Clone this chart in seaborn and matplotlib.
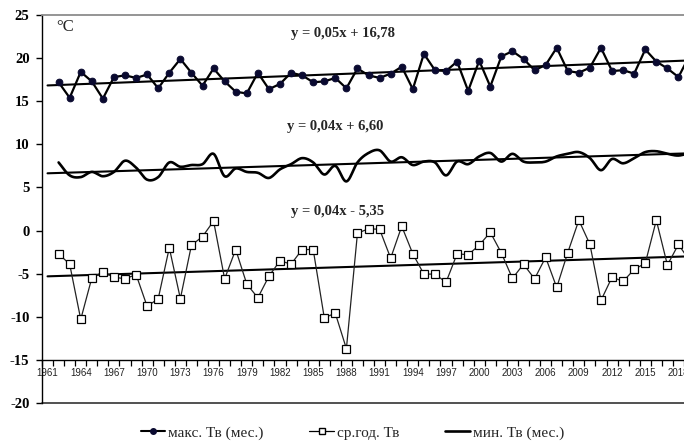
import numpy as np
import matplotlib
matplotlib.use("Agg")
import matplotlib.pyplot as plt
from matplotlib.lines import Line2D
import seaborn as sns

# years of observation (1961 is an empty category on the axis)
years = list(range(1962, 2020))

# dots: "макс. Тв (мес.)"
t_max = [17.2, 15.4, 18.4, 17.3, 15.3, 17.8, 18.0, 17.7, 18.1, 16.5,
         18.3, 19.9, 18.3, 16.8, 18.8, 17.3, 16.1, 15.9, 18.3, 16.4,
         17.0, 18.3, 18.0, 17.2, 17.3, 17.7, 16.5, 18.8, 18.0, 17.7,
         18.2, 19.0, 16.4, 20.5, 18.6, 18.5, 19.6, 16.2, 19.7, 16.7,
         20.2, 20.8, 19.9, 18.6, 19.2, 21.2, 18.5, 18.3, 18.9, 21.2,
         18.5, 18.6, 18.2, 21.0, 19.6, 18.8, 17.8, 20.3]

# open squares: "ср.год. Тв"
t_mean = [-2.7, -3.9, -10.3, -5.5, -4.8, -5.4, -5.6, -5.1, -8.8, -7.9,
          -2.0, -7.9, -1.7, -0.7, 1.1, -5.6, -2.2, -6.2, -7.8, -5.3,
          -3.5, -3.9, -2.2, -2.2, -10.1, -9.6, -13.7, -0.3, 0.2, 0.15,
          -3.2, 0.5, -2.7, -5.05, -5.05, -6.0, -2.7, -2.8, -1.7, -0.2,
          -2.6, -5.55, -3.9, -5.6, -3.1, -6.6, -2.55, 1.2, -1.6, -8.1,
          -5.4, -5.9, -4.5, -3.8, 1.2, -4.0, -1.6, -3.5]

# smooth line: "мин. Тв (мес.)"
t_min = [7.9, 6.4, 6.2, 6.8, 6.3, 6.8, 8.1, 7.3, 5.9, 6.2,
         7.9, 7.4, 7.6, 7.7, 8.9, 6.3, 7.2, 6.8, 6.7, 6.1,
         7.1, 7.7, 8.4, 7.9, 6.5, 7.5, 5.7, 7.9, 9.0, 9.3,
         8.0, 8.5, 7.6, 8.0, 7.9, 6.4, 8.0, 7.7, 8.6, 9.0,
         8.0, 8.9, 8.0, 7.9, 8.0, 8.6, 8.9, 9.1, 8.4, 7.0,
         8.3, 7.8, 8.4, 9.1, 9.2, 8.9, 8.7, 9.0]

# linear trends, x = year - 1960
trend_slope = [0.05, 0.04, 0.04]
trend_icpt = [16.78, 6.60, -5.35]
trend_text = ["y = 0,05x + 16,78", "y = 0,04x + 6,60", "y = 0,04x - 5,35"]
trend_text_x = [1987.7, 1987.0, 1987.2]
trend_text_y = [22.9, 12.05, 2.25]

legend_labels = ["макс. Тв (мес.)", "ср.год. Тв", "мин. Тв (мес.)"]
tick_years = list(range(1961, 2019, 3))


def smoothCurve(x, y, n=12):
    # Catmull-Rom style smoothing like the spreadsheet "smoothed line"
    x = np.asarray(x, float)
    y = np.asarray(y, float)
    m = np.gradient(y)
    xs, ys = [], []
    for i in range(len(x) - 1):
        t = np.linspace(0, 1, n, endpoint=False)
        h00 = 2 * t**3 - 3 * t**2 + 1
        h10 = t**3 - 2 * t**2 + t
        h01 = -2 * t**3 + 3 * t**2
        h11 = t**3 - t**2
        xs.append(x[i] + t * (x[i + 1] - x[i]))
        ys.append(h00 * y[i] + h10 * m[i] + h01 * y[i + 1] + h11 * m[i + 1])
    xs.append([x[-1]])
    ys.append([y[-1]])
    return np.concatenate(xs), np.concatenate(ys)


sns.set_style("white")
plt.rcParams["font.family"] = ["Liberation Serif", "DejaVu Serif"]

fig = plt.figure(figsize=(6.84, 4.41), dpi=100)
ax = fig.add_axes([42 / 684, 38 / 441, 642 / 684, 388 / 441])

# trend lines
trend_x = np.array([1961, 2020])
for k in range(3):
    sns.lineplot(x=trend_x, y=trend_slope[k] * (trend_x - 1960) + trend_icpt[k],
                 ax=ax, color="black", lw=1.5)

sns.lineplot(x=years, y=t_max, ax=ax, color="black", lw=1.6, marker="o",
             markersize=4.8, markerfacecolor="#0a0a30", markeredgecolor="#0a0a30")
sns.lineplot(x=years, y=t_mean, ax=ax, color="#222222", lw=0.9, marker="s",
             markersize=5.4, markerfacecolor="white", markeredgecolor="black",
             markeredgewidth=0.9)
sx, sy = smoothCurve(years, t_min)
sns.lineplot(x=sx, y=sy, ax=ax, color="black", lw=1.9, sort=False, estimator=None)

for k in range(3):
    ax.text(trend_text_x[k], trend_text_y[k], trend_text[k], ha="center", va="center",
            fontsize=10.5, fontweight="bold")
ax.text(1962.6, 23.6, "°C", ha="center", va="center", fontsize=12)

ax.set_xlim(1960.5, 2018.5)
ax.set_ylim(-20, 25)
ax.set_xlabel("")
ax.set_ylabel("")

ax.spines["right"].set_visible(False)
ax.spines["top"].set_color("#8c8c8c")
ax.spines["top"].set_linewidth(1.3)
ax.spines["left"].set_color("black")
ax.spines["left"].set_linewidth(1.0)
ax.spines["bottom"].set_position(("data", -15))
ax.spines["bottom"].set_color("black")
ax.spines["bottom"].set_linewidth(1.0)
ax.axhline(-20, color="#333333", lw=1.2, clip_on=False)

ax.set_yticks(range(-20, 26, 5))
ax.set_yticklabels([str(v) for v in range(-20, 26, 5)], fontweight="bold", fontsize=10.5)
ax.tick_params(axis="y", direction="out", length=4, width=1, pad=5, left=True, colors="black")

ax.set_xticks(tick_years)
ax.set_xticklabels([str(v) for v in tick_years], family=["Liberation Sans"], fontsize=7,
                   color="#222222")
ax.set_xticks(np.arange(1960.5, 2019, 1), minor=True)
ax.tick_params(axis="x", which="major", length=0, pad=6, bottom=True)
ax.tick_params(axis="x", which="minor", direction="out", length=4, width=0.9,
               bottom=True, color="black")

handles = [
    Line2D([], [], color="black", lw=1.5, marker="o", markersize=4,
           markerfacecolor="#0a0a30", markeredgecolor="#0a0a30"),
    Line2D([], [], color="black", lw=0.9, marker="s", markersize=5,
           markerfacecolor="white", markeredgecolor="black"),
    Line2D([], [], color="black", lw=1.9),
]
fig.legend(handles, legend_labels, loc="center", bbox_to_anchor=(0.515, 0.018),
           ncol=3, frameon=False, fontsize=11, handlelength=1.6, handletextpad=0.2,
           columnspacing=3.0)

fig.savefig("out.png", dpi=100)
